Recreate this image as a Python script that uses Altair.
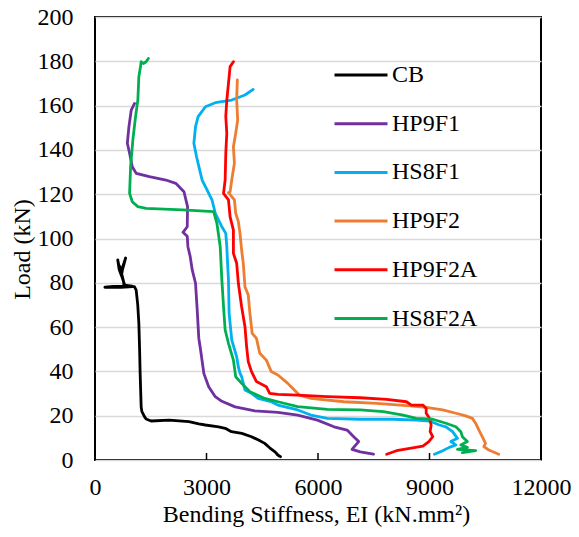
import altair as alt
import pandas as pd

SERIES = ["CB", "HP9F1", "HS8F1", "HP9F2", "HP9F2A", "HS8F2A"]
COLORS = ["#000000", "#7030A0", "#00B0F0", "#ED7D31", "#FF0000", "#00B050"]

CB_EI = [4990, 4900, 4950, 4833, 4700, 4566, 4400, 4211, 3950, 3671, 3503, 3325, 2970, 2793, 2527,
         1995, 1508, 1375, 1330, 1260, 1242, 1215, 1200, 1180, 1150, 1108, 1060, 1011, 700, 266,
         500, 780, 770, 718, 650, 612, 640, 718, 825, 740, 718, 771, 800, 1000]
CB_LOAD = [1.5, 2.5, 1.8, 3.8, 5.5, 7.5, 9, 10.5, 12, 12.8, 14.3, 15, 15.8, 16.3, 17.3,
           18, 17.6, 18.5, 19.6, 22, 24, 39, 50, 61.7, 70, 76.7, 78.3, 78.3, 78.0, 78,
           78.4, 78.5, 80.4, 83, 86, 90.3, 88, 85.8, 91.2, 86, 84, 80.4, 79, 78.5]

HP9F1_EI = [7493, 7137, 6916, 6977, 7094, 6961, 6783, 6429, 5985, 5453, 4921, 4301, 3769, 3413, 3236,
            3059, 2930, 2838, 2793, 2749, 2705, 2616, 2560, 2500, 2482, 2367, 2482, 2490, 2394, 2173,
            1907, 1463, 1109, 1003, 931, 870, 913, 976, 1064]
HP9F1_LOAD = [2.6, 3.7, 4.8, 6, 8.3, 10.5, 13.5, 15, 18, 20.3, 21.5, 22.2, 24, 26.5, 28.6,
              33.1, 39, 50, 55, 68, 79.8, 85.8, 92, 96.3, 101, 102.8, 105.3, 114.4, 121.1, 124.9,
              126.4, 127.9, 129.4, 132.4, 138.5, 143, 150.5, 158, 161]

HS8F1_EI = [9133, 9355, 9532, 9709, 9576, 9753, 9620, 9443, 9266, 9000, 8645, 8024, 7137, 6251, 5808,
            5453, 4921, 4743, 4389, 4211, 4035, 3945, 3902, 3857, 3812, 3679, 3609, 3591, 3572, 3546,
            3519, 3413, 3237, 3147, 3014, 2882, 2838, 2731, 2660, 2705, 2775, 2971, 3237, 3679, 4035, 4256]
HS8F1_LOAD = [2.6, 4.2, 5.7, 6.8, 8.3, 9.8, 12.8, 15, 15.8, 17.6, 18, 18.4, 18.4, 18.8, 20.3,
              22.6, 24.8, 26.3, 27.8, 30.1, 31.6, 37.6, 39.1, 42, 46.6, 54.2, 66.2, 81.3, 87.3, 96.3,
              102.3, 105.3, 111.4, 117.4, 121.9, 126.4, 129.4, 137, 143, 150.5, 155, 159.5, 161.3, 162.5, 164.8, 167.3]

HP9F2_EI = [10862, 10596, 10462, 10507, 10419, 10330, 10241, 10153, 9975, 9709, 9355, 8911, 8468, 7581, 6695,
            5808, 5497, 5275, 5187, 4921, 4743, 4610, 4433, 4344, 4229, 4168, 4123, 4035, 3990, 3945,
            3902, 3857, 3786, 3751, 3591, 3635, 3679, 3751, 3724, 3786, 3839, 3812, 3830]
HP9F2_LOAD = [2.6, 4.5, 6, 7.5, 10.5, 13.5, 16.6, 18.8, 19.9, 21.1, 22.6, 23.8, 24.4, 25.6, 26.3,
              27.8, 29.3, 33.1, 34.6, 38.4, 39.9, 45.1, 48.2, 54.9, 57.2, 66.2, 74.5, 78.2, 88.8, 94.8,
              102.3, 107.6, 111.4, 117.4, 120.7, 121.1, 126.4, 134, 141.4, 147.5, 153.5, 162.5, 171.6]

HP9F2A_EI = [7847, 8113, 8468, 8822, 8982, 9088, 9017, 9044, 9000, 8911, 8911, 8822, 8512, 8379, 7847,
             7137, 6251, 5453, 4921, 4699, 4610, 4344, 4211, 4123, 4079, 4035, 3945, 3857, 3812, 3724,
             3724, 3635, 3591, 3458, 3502, 3519, 3546, 3519, 3546, 3591, 3635, 3724]
HP9F2A_LOAD = [2.6, 4.2, 5.3, 6.3, 8.3, 10.5, 12.8, 15.8, 18.8, 21.1, 23.3, 24.8, 24.8, 26.3, 27.4,
               28.1, 28.6, 29.3, 29.6, 30.1, 33.1, 35.4, 39.9, 44.4, 51.2, 60.2, 69.2, 79.8, 88.8, 93.3,
               103.8, 109.8, 117.4, 120.4, 126.4, 138.5, 147.5, 155, 162.5, 170, 177.6, 179.8]

HS8F2A_EI = [9886, 10241, 9753, 10019, 9842, 10019, 9886, 9842, 9709, 9443, 9088, 8645, 8291, 7759, 7137,
             6251, 5453, 4921, 4566, 4168, 3945, 3786, 3724, 3591, 3502, 3458, 3413, 3369, 3281, 3192,
             2349, 1375, 1153, 1003, 931, 958, 1019, 1091, 1153, 1180, 1224, 1242, 1303, 1375, 1436]
HS8F2A_LOAD = [3.3, 4.2, 4.8, 5.7, 6.8, 8.3, 10.5, 12.8, 15, 16.6, 18.4, 18.8, 20.3, 21.8, 22.6,
               22.9, 24.1, 26.3, 27.8, 30.8, 34.6, 37.6, 45.1, 52.7, 58.7, 69.2, 81.3, 96.3, 106.8, 112.1,
               112.9, 113.6, 114.4, 116.6, 120.4, 132.4, 144.5, 155, 162.5, 173, 177.6, 179.8, 179, 179.8, 181.3]

X_TICKS = [0, 3000, 6000, 9000, 12000]
Y_TICKS = list(range(0, 201, 20))

EI_LISTS = [CB_EI, HP9F1_EI, HS8F1_EI, HP9F2_EI, HP9F2A_EI, HS8F2A_EI]
LOAD_LISTS = [CB_LOAD, HP9F1_LOAD, HS8F1_LOAD, HP9F2_LOAD, HP9F2A_LOAD, HS8F2A_LOAD]

rows = []
for name, eis, loads in zip(SERIES, EI_LISTS, LOAD_LISTS):
    for i, (e, l) in enumerate(zip(eis, loads)):
        rows.append({"series": name, "ei": e, "load": l, "idx": i})
df = pd.DataFrame(rows)

FONT = "Liberation Serif"
FS = 24

x_scale = alt.Scale(domain=[0, 12000], nice=False)
y_scale = alt.Scale(domain=[0, 200], nice=False)

lines = alt.Chart(df).mark_line(strokeWidth=2.8, strokeJoin="round", strokeCap="round").encode(
    x=alt.X("ei:Q", scale=x_scale,
            axis=alt.Axis(values=X_TICKS, title="Bending Stiffness, EI (kN.mm²)", grid=False,
                          domain=False, ticks=False, tickSize=0, labelPadding=15,
                          labelFlush=False, labelOverlap=False,
                          titlePadding=3, labelFontSize=FS, titleFontSize=FS, format="d",
                          titleX=221, titleFontWeight="normal", labelFontWeight="normal",
                          titleFont=FONT, labelFont=FONT)),
    y=alt.Y("load:Q", scale=y_scale,
            axis=alt.Axis(values=Y_TICKS, title="Load (kN)", grid=True, gridColor="#D9D9D9",
                          gridWidth=1.5, domain=False, ticks=False, tickSize=0, labelPadding=22,
                          labelFlush=False, labelOverlap=False,
                          titlePadding=3, labelFontSize=FS, titleFontSize=FS, titleY=232,
                          titleFontWeight="normal", labelFontWeight="normal",
                          titleFont=FONT, labelFont=FONT)),
    color=alt.Color("series:N", scale=alt.Scale(domain=SERIES, range=COLORS),
                    legend=alt.Legend(title=None, orient="none", legendX=251, legendY=43,
                                      symbolType="M-2,0L2,0", symbolSize=702,
                                      symbolStrokeWidth=3, labelFontSize=FS, labelFont=FONT,
                                      labelFontWeight="normal",
                                      labelOffset=16, rowPadding=21.7, padding=0,
                                      labelColor="black")),
    order=alt.Order("idx:Q"),
    detail="series:N",
)

tick_df = pd.DataFrame({"t": X_TICKS})
ticks = alt.Chart(tick_df).mark_rule(color="black", strokeWidth=1.5).encode(
    x=alt.X("t:Q", scale=x_scale),
    y=alt.value(443),
    y2=alt.value(436),
)

chart = alt.layer(lines, ticks).properties(
    width=446, height=443,
    padding={"left": 87, "top": 9, "right": 30, "bottom": 69},
    autosize=alt.AutoSizeParams(type="none"),
).configure(font=FONT).configure_view(
    stroke="black", strokeWidth=2
).configure_axis(
    labelColor="black", titleColor="black", titleFontWeight="normal", labelFont=FONT, titleFont=FONT
)

chart.save("out.html", embed_options={"renderer": "svg", "actions": False})
